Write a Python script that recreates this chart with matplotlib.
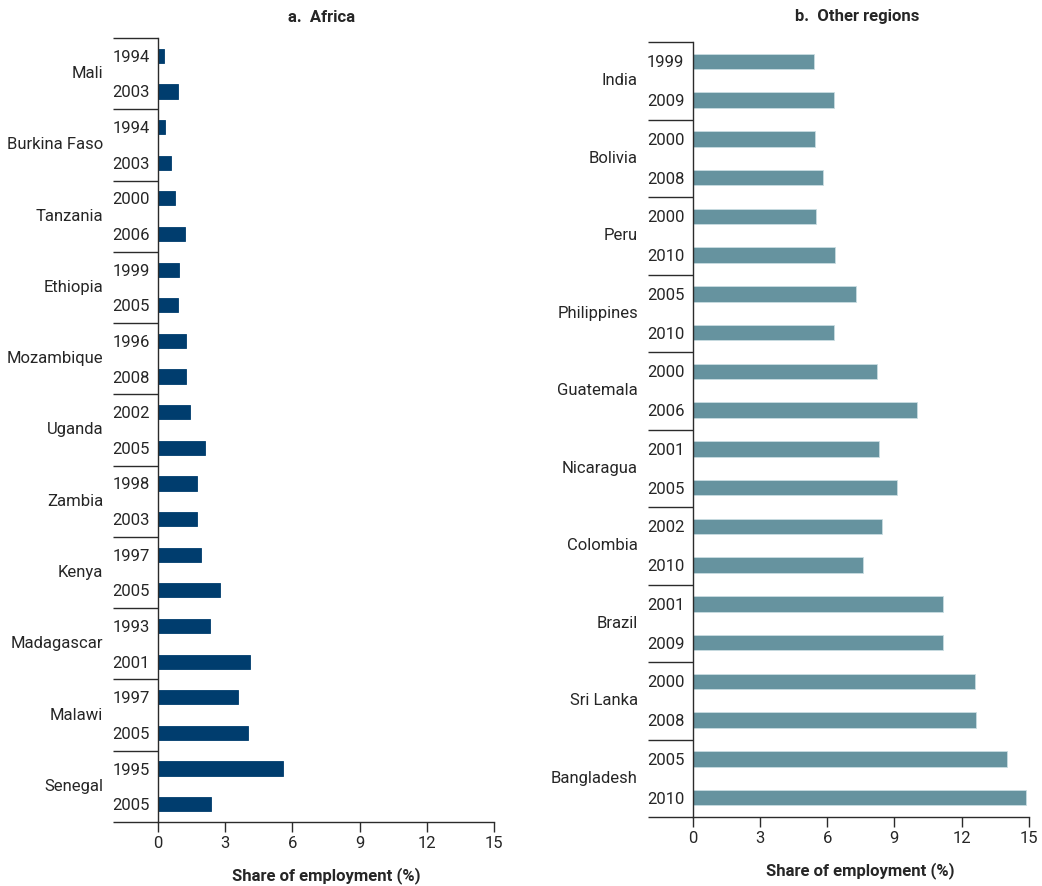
import matplotlib
matplotlib.use("Agg")
import matplotlib.pyplot as plt
import matplotlib.transforms as mtransforms

plt.rcParams["font.family"] = ["Roboto", "DejaVu Sans"]

# Panel a: Africa
africa_countries = ["Mali", "Burkina Faso", "Tanzania", "Ethiopia", "Mozambique", "Uganda",
                    "Zambia", "Kenya", "Madagascar", "Malawi", "Senegal"]
africa_years = [("1994", "2003"), ("1994", "2003"), ("2000", "2006"), ("1999", "2005"),
                ("1996", "2008"), ("2002", "2005"), ("1998", "2003"), ("1997", "2005"),
                ("1993", "2001"), ("1997", "2005"), ("1995", "2005")]
africa_values = [(0.27, 0.89), (0.31, 0.58), (0.76, 1.20), (0.94, 0.89), (1.27, 1.24),
                 (1.41, 2.08), (1.72, 1.72), (1.94, 2.79), (2.32, 4.10), (3.57, 4.02),
                 (5.58, 2.37)]

# Panel b: other regions
other_countries = ["India", "Bolivia", "Peru", "Philippines", "Guatemala", "Nicaragua",
                   "Colombia", "Brazil", "Sri Lanka", "Bangladesh"]
other_years = [("1999", "2009"), ("2000", "2008"), ("2000", "2010"), ("2005", "2010"),
               ("2000", "2006"), ("2001", "2005"), ("2002", "2010"), ("2001", "2009"),
               ("2000", "2008"), ("2005", "2010")]
other_values = [(5.42, 6.29), (5.46, 5.83), (5.50, 6.37), (7.28, 6.31), (8.24, 10.00),
                (8.30, 9.12), (8.47, 7.60), (11.19, 11.16), (12.60, 12.65), (14.05, 14.86)]

xticks = [0, 3, 6, 9, 12, 15]

COL_AFRICA = "#003D6E"
COL_OTHER = "#66939F"
LINE = "#2b2b2b"
TXT = "#262626"
FS = 12


def draw_panel(ax, countries, years, values, color, edge):
    labels = [y for pair in years for y in pair]
    vals = [v for pair in values for v in pair]
    pos = list(range(len(vals)))
    ax.barh(pos, vals, height=0.4, color=color, edgecolor=edge, linewidth=0.6)
    ax.set_ylim(len(vals) - 0.5, -0.5)
    ax.set_xlim(0, 15)
    ax.set_yticks(pos)
    ax.set_yticklabels(labels, fontsize=FS, color=TXT)
    ax.tick_params(axis="y", length=0, pad=6)
    ax.set_xticks(xticks)
    ax.set_xticklabels([str(t) for t in xticks], fontsize=FS, color=TXT)
    ax.tick_params(axis="x", length=7, width=1.0, color=LINE, pad=3)
    for s in ("top", "right"):
        ax.spines[s].set_visible(False)
    ax.spines["left"].set_color(LINE)
    ax.spines["bottom"].set_color(LINE)
    ax.spines["left"].set_linewidth(1.0)
    ax.spines["bottom"].set_linewidth(1.0)
    ax.spines["bottom"].set_bounds(0, 15)

    trans = mtransforms.blended_transform_factory(ax.transAxes, ax.transData)
    # group separator lines reaching out under the year labels
    for k in range(len(countries) + 1):
        y = 2 * k - 0.5
        ax.plot([-0.134, 0], [y, y], transform=trans, color=LINE, lw=1.0,
                clip_on=False, solid_capstyle="butt")
    for k, name in enumerate(countries):
        ax.text(-0.163, 2 * k + 0.5, name, transform=trans, ha="right", va="center",
                fontsize=FS, color=TXT)
    ax.set_xlabel("Share of employment (%)", fontsize=FS, fontweight="bold",
                  color=TXT, labelpad=12)


fig = plt.figure(figsize=(10.42, 8.86), dpi=100)
ax1 = fig.add_axes([158 / 1042, 1 - 822 / 886, 336 / 1042, 784 / 886])
ax2 = fig.add_axes([692.7 / 1042, 1 - 817 / 886, 336 / 1042, 775 / 886])

draw_panel(ax1, africa_countries, africa_years, africa_values, COL_AFRICA, COL_AFRICA)
draw_panel(ax2, other_countries, other_years, other_values, COL_OTHER, "#c9dde2")

fig.text(322 / 1042, 1 - 17 / 886, "a.  Africa", ha="center", va="center",
         fontsize=FS, fontweight="bold", color=TXT)
fig.text(857 / 1042, 1 - 17 / 886, "b.  Other regions", ha="center", va="center",
         fontsize=FS, fontweight="bold", color=TXT)

fig.savefig("out.png", dpi=100)
